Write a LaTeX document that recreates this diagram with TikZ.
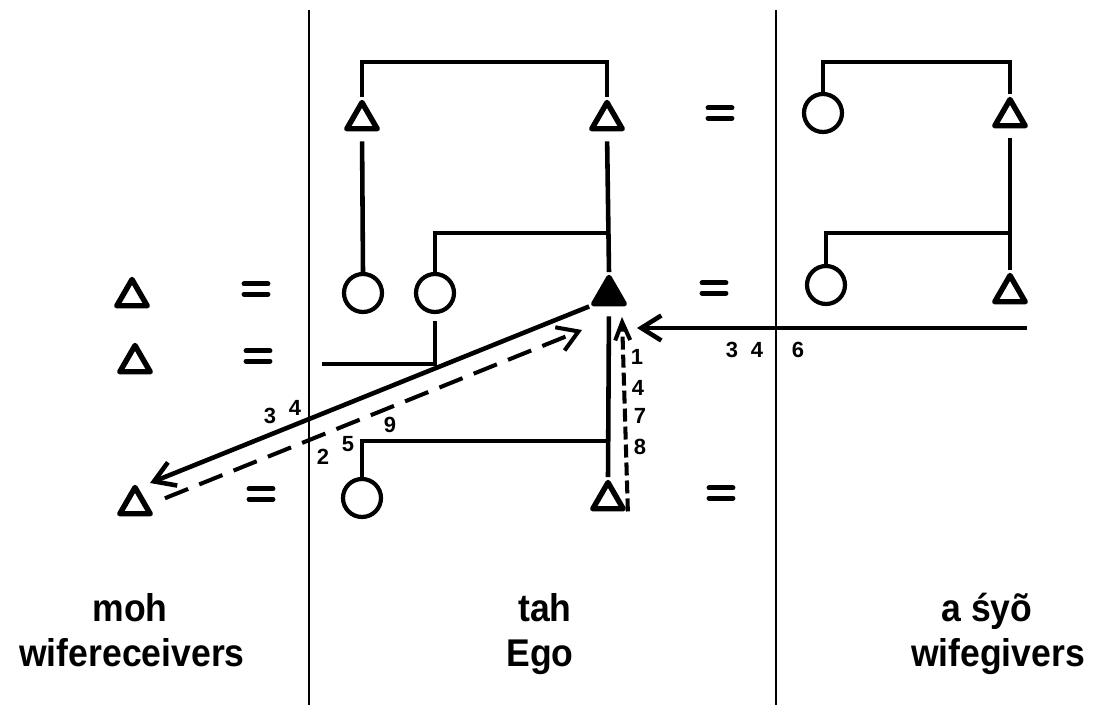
\documentclass[tikz,border=0pt]{standalone}
\usepackage{fontspec}
\setmainfont{Liberation Sans}
\newfontfamily\groupfont{Liberation Sans}[FakeStretch=0.92]
\usetikzlibrary{arrows.meta,shapes.geometric}

\begin{document}
\begin{tikzpicture}[
  x=0.02cm,y=-0.02cm,
  male/.style={draw,regular polygon,regular polygon sides=3,minimum size=7mm,
    inner sep=0pt,line width=3.1pt,line join=round},
  ego/.style={male,fill=black},
  female/.style={draw,circle,minimum size=7.6mm,inner sep=0pt,line width=2.4pt},
  marriage/.style={minimum width=6.2mm,minimum height=4mm,inner sep=0pt,
    path picture={
      \draw[line width=2.8pt,line cap=round]
        ([xshift=2pt,yshift=2.9pt]path picture bounding box.west) --
        ([xshift=-2pt,yshift=2.9pt]path picture bounding box.east)
        ([xshift=2pt,yshift=-2.9pt]path picture bounding box.west) --
        ([xshift=-2pt,yshift=-2.9pt]path picture bounding box.east);}},
  kin/.style={line width=2.6pt},
  desc/.style={kin,shorten <=2mm},
  divider/.style={line width=1.7pt},
  gift/.style={line width=2.6pt,-{Straight Barb[length=4mm,width=5mm]}},
  retarrow/.style={line width=2.3pt,dash pattern=on 5mm off 2.4mm,
    -{Straight Barb[length=4mm,width=5mm]}},
  vdash/.style={line width=2.3pt,dash pattern=on 2.6mm off 1mm,
    -{Straight Barb[length=3.6mm,width=3mm]}},
  numlab/.style={font=\fontsize{12.5}{14}\selectfont\bfseries,inner sep=0pt},
  grouplab/.style={font=\groupfont\fontsize{22}{26}\selectfont\bfseries,
    inner sep=0pt,anchor=base}
]
  \useasboundingbox (0,0) rectangle (1103,705);

  % panel dividers
  \draw[divider] (309,10) -- (309,705);
  \draw[divider] (776,10) -- (776,705);

  % heights of the sibling bars
  \coordinate (gen1) at (0,62);
  \coordinate (gen2) at (0,233);
  \coordinate (gen3) at (0,441);
  \coordinate (lowend) at (322,364);

  % wifereceivers
  \node[male] (L1) at (132,297) {};
  \node[male] (L2) at (135,363) {};
  \node[male] (L3) at (135,505) {};
  \node[marriage] (eqL1) at (256,289) {};
  \node[marriage] (eqL2) at (258,356) {};
  \node[marriage] (eqL3) at (261,494) {};

  % Ego
  \node[male] (T1) at (362,120) {};
  \node[male] (T2) at (607,120) {};
  \node[marriage] (eqT) at (720,113) {};
  \node[female] (C1) at (363,293) {};
  \node[female] (C2) at (435,293) {};
  \node[ego] (Ego) at (609,295) {};
  \node[marriage] (eqM) at (714,288) {};
  \node[female] (C4) at (362,498) {};
  \node[male] (B) at (608,500) {};
  \node[marriage] (eqB) at (721,493) {};

  % wifegivers
  \node[female] (C0) at (823,113) {};
  \node[male] (R1) at (1010,117) {};
  \node[female] (C3) at (826,285) {};
  \node[male] (R2) at (1010,293) {};

  \draw[kin] (T1.north) |- (gen1 -| T2.north) -- (T2.north);
  \draw[kin] (C0.north) |- (gen1 -| R1.north) -- (R1.north);
  \draw[desc] (T1.south) -- (C1.north);
  \draw[desc] (T2.south) -- (Ego.north);
  \draw[desc] (R1.south) -- (R2.north);
  \draw[desc] (Ego.south) -- (B.north);
  \draw[kin] (C2.north) |- (gen2 -| Ego.north);
  \draw[kin] (C3.north) |- (gen2 -| R2.north);
  \draw[kin] (C4.north) |- (gen3 -| B.north);
  \draw[kin,shorten <=1.4mm] (C2.south) |- (lowend);

  % exchanges
  \coordinate (soltip) at (150,483);
  \coordinate (dashtip) at (582,330);
  \coordinate (vtip) at (622,317);
  \coordinate (htip) at (637,328);
  \coordinate (hstart) at (1027,328);
  \draw[gift] (Ego.corner 2) -- (soltip);
  \draw[retarrow,shorten <=3.6mm] (L3.east) -- (dashtip);
  \draw[vdash] (B.corner 3) -- (vtip);
  \draw[gift] (hstart) -- (htip);

  \node[numlab] (n3a) at (270,416) {3};
  \node[numlab] (n4a) at (295,408) {4};
  \node[numlab] (n2) at (323,457) {2};
  \node[numlab] (n5) at (348,444) {5};
  \node[numlab] (n9) at (390,425) {9};
  \node[numlab] (n3b) at (732,350) {3};
  \node[numlab] (n4b) at (757,350) {4};
  \node[numlab] (n6) at (798,350) {6};
  \node[numlab] (n1) at (637,357) {1};
  \node[numlab] (n4c) at (638,388) {4};
  \node[numlab] (n7) at (640,416) {7};
  \node[numlab] (n8) at (640,447) {8};

  \node[grouplab] (moh) at (130,622) {moh};
  \node[grouplab] (wr) at (132,667) {wifereceivers};
  \node[grouplab] (tah) at (545,622) {tah};
  \node[grouplab] (egolab) at (540,667) {Ego};
  \node[grouplab] (syo) at (987,622) {a śyõ};
  \node[grouplab] (wg) at (998,667) {wifegivers};
\end{tikzpicture}
\end{document}
